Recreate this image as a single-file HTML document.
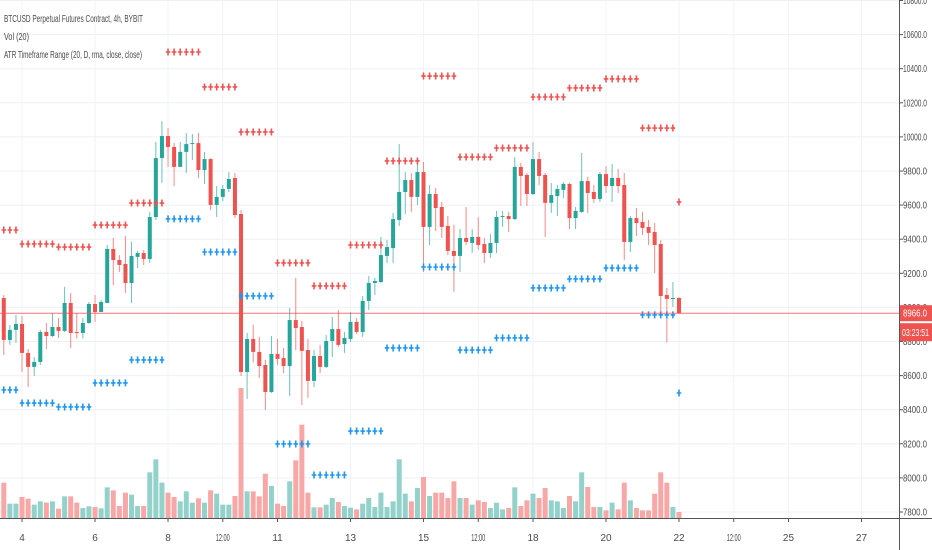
<!DOCTYPE html>
<html><head><meta charset="utf-8">
<style>
html,body{margin:0;padding:0;background:#fff;}
svg{display:block;font-family:"Liberation Sans",sans-serif;}
</style></head>
<body>
<svg id="chart" width="932" height="550" viewBox="0 0 932 550" xmlns="http://www.w3.org/2000/svg">
  <rect x="0" y="0" width="932" height="550" fill="#ffffff"/>
  <g id="grid"></g>
  <g id="volume"></g>
  <g id="candles"></g>
  <g id="atr"></g>
  <g id="axes"></g>
  <g fill="#4a4a4a" font-size="10">
    <text x="4" y="22" textLength="139" lengthAdjust="spacingAndGlyphs">BTCUSD Perpetual Futures Contract, 4h, BYBIT</text>
    <text x="4" y="40" textLength="25" lengthAdjust="spacingAndGlyphs">Vol (20)</text>
    <text x="4" y="58" textLength="138" lengthAdjust="spacingAndGlyphs">ATR Timeframe Range (20, D, rma, close, close)</text>
  </g>
</svg>
<script>
const openP=[8985,9055,8809,8868,8903,8733,8651,8680,8856,8832,8885,8862,9026,8856,8850,8909,9020,8973,9026,9343,9278,9255,9143,9296,9319,9284,9530,9876,10005,9941,9824,9912,9958,9964,9806,9870,9601,9648,9695,9759,9548,8621,8815,8739,8662,8504,8727,8703,8656,8926,8885,8750,8569,8715,8651,8803,8873,8785,8815,8915,8856,9038,9143,9149,9302,9348,9513,9677,9747,9648,9794,9472,9665,9589,9478,9331,9302,9407,9378,9413,9372,9319,9378,9530,9536,9518,9824,9777,9665,9870,9777,9613,9653,9689,9724,9524,9560,9741,9677,9636,9782,9712,9759,9718,9384,9524,9501,9472,9442,9372,9073,9050,9055];
const highP=[9067,9073,8897,8956,8950,8756,8709,8868,8909,8967,8938,9120,9085,8967,8938,9032,9073,9044,9366,9407,9307,9419,9384,9331,9337,9560,9970,10093,10052,9964,9970,10023,10017,10023,9912,9876,9712,9718,9794,9788,9571,8850,8897,8827,8692,8832,8815,8762,8997,9173,8920,8815,8750,8780,8838,8944,8985,8856,8973,8938,9067,9184,9173,9413,9395,9554,9958,9794,9788,9847,9853,9718,9700,9618,9536,9484,9460,9589,9460,9530,9407,9431,9566,9566,9560,9882,9847,9788,9970,9912,9788,9730,9718,9735,9730,9589,9906,9765,9718,9794,9829,9841,9812,9788,9536,9583,9560,9513,9495,9395,9114,9149,9061];
const lowP=[8973,8721,8780,8792,8621,8533,8598,8662,8756,8827,8821,8856,8762,8818,8818,8903,8915,8973,9026,9131,9208,9085,9026,9231,9249,9260,9513,9730,9824,9712,9824,9788,9865,9759,9724,9571,9530,9624,9677,9524,8598,8463,8677,8586,8398,8498,8662,8615,8481,8750,8428,8469,8533,8615,8645,8709,8768,8733,8797,8844,8827,8985,9073,9143,9260,9260,9478,9548,9560,9601,9208,9366,9448,9407,9307,9091,9208,9366,9319,9337,9260,9290,9319,9472,9442,9513,9595,9595,9659,9718,9413,9554,9536,9642,9460,9460,9554,9554,9613,9618,9671,9618,9671,9278,9325,9419,9425,9366,9202,8973,8794,9003,8962];
const closeP=[9055,8809,8868,8903,8733,8651,8680,8856,8832,8885,8862,9026,8850,8850,8909,9020,8973,9032,9343,9278,9249,9143,9302,9319,9284,9530,9876,10005,9941,9824,9912,9958,9964,9806,9870,9601,9648,9695,9753,9542,8621,8815,8739,8656,8504,8727,8698,8656,8926,8879,8745,8569,8715,8651,8803,8873,8780,8821,8915,8856,9038,9143,9155,9307,9354,9518,9677,9747,9648,9794,9472,9665,9583,9472,9331,9302,9407,9384,9413,9366,9319,9378,9530,9536,9518,9824,9771,9665,9870,9771,9613,9659,9694,9724,9524,9566,9741,9671,9636,9782,9712,9759,9712,9384,9524,9495,9466,9437,9366,9067,9050,9055,8966];
const volumes=[50,106,43,43,63,58,40,50,46,50,28,65,65,46,30,35,33,29,92,83,36,76,70,36,36,137,176,106,76,63,50,80,46,59,46,83,73,40,40,66,390,80,80,65,133,96,43,36,110,173,280,76,32,32,40,60,48,36,31,26,43,60,33,76,33,50,176,73,50,90,123,66,76,76,60,110,60,60,40,53,48,30,46,26,30,92,36,53,73,60,90,53,50,30,66,50,137,93,33,33,23,46,26,106,53,30,23,23,73,137,106,33,18];
const atrUpper=[9454,9372,9354,9483,9612,10498,10293,10029,9261,9126,9366,9859,10357,9882,9935,10234,10287,10340,10052,9618];
const atrLower=[8516,8439,8416,8557,8692,9519,9325,9067,8199,8017,8275,8762,9237,8750,8821,9114,9167,9231,8956,8498];
const priceTicks=[10800,10600,10400,10200,10000,9800,9600,9400,9200,9000,8800,8600,8400,8200,8000,7800];
const timeLabels=["4","6","8","12:00","11","13","15","12:00","18","20","22","12:00","25","27"];
const timeLabelIdx=[4,16,28,37,46,58,70,79,88,100,112,121,130,142];
const lastPrice=8966;

const NS="http://www.w3.org/2000/svg";
const PLOT_R=899, AXIS_Y=518;
function xScale(i){return 679-(112-i)*6.083;}
function yScale(p){return 171+(9800-p)/5.865;}
function volY(v){return AXIS_Y-v/3;}
function mk(tag,attrs,parent){const e=document.createElementNS(NS,tag);for(const k in attrs)e.setAttribute(k,attrs[k]);parent.appendChild(e);return e;}

const grid=document.getElementById('grid');
priceTicks.forEach(p=>{
  const l=mk('line',{x1:0,x2:PLOT_R,y1:yScale(p),y2:yScale(p),stroke:'#edf0f5','stroke-width':1},grid);
  
  
});
timeLabelIdx.forEach(i=>{
  const l=mk('line',{x1:xScale(i),x2:xScale(i),y1:0,y2:AXIS_Y,stroke:'#f0f3f8','stroke-width':1},grid);
  
  
});

const vol=document.getElementById('volume');
volumes.forEach((v,i)=>{
  const up=closeP[i]>=openP[i];
  const r=mk('rect',{x:xScale(i)-2.5,y:volY(v),width:5,height:v/3,fill:up?'#92d2cb':'#f7a8a6'},vol);
  
  
});

const cg=document.getElementById('candles');
openP.forEach((o,i)=>{
  const c=closeP[i], up=c>=o, x=xScale(i);
  const col=up?'#26a69a':'#ef5350', wcol=up?'#6cc1b8':'#f28a88';
  const g=mk('g',{},cg);
  
  
  mk('line',{x1:x,x2:x,y1:yScale(highP[i]),y2:yScale(lowP[i]),stroke:wcol,'stroke-width':1},g);
  const top=yScale(Math.max(o,c)), bot=yScale(Math.min(o,c));
  mk('rect',{x:x-2,y:top,width:4,height:Math.max(1,bot-top),fill:col},g);
});

const ag=document.getElementById('atr');
function marker(x,y,col){
  const m=mk('path',{d:`M${x} ${y-3.5}L${x} ${y+3.5}M${x-2.3} ${y}L${x+2.3} ${y}`,stroke:col,'stroke-width':1.6,fill:'none'},ag);
  return m;
}
atrUpper.forEach((u,k)=>{
  const start=-2+6*k;
  for(let i=Math.max(0,start);i<=Math.min(112,start+5);i++){
    const m=marker(xScale(i),yScale(u),'#ef5350');
    
    
    const n=marker(xScale(i),yScale(atrLower[k]),'#2196f3');
    
    
  }
});

const ax=document.getElementById('axes');
const pl=mk('line',{x1:0,x2:PLOT_R,y1:yScale(lastPrice),y2:yScale(lastPrice),stroke:'#ef5350','stroke-width':1,opacity:0.8},ax);


const xa=mk('line',{x1:0,x2:932,y1:AXIS_Y+0.5,y2:AXIS_Y+0.5,stroke:'#555','stroke-width':1},ax);


const ya=mk('line',{x1:PLOT_R+0.5,x2:PLOT_R+0.5,y1:0,y2:550,stroke:'#555','stroke-width':1},ax);


priceTicks.forEach(p=>{
  const y=yScale(p);
  mk('line',{x1:PLOT_R,x2:PLOT_R+4,y1:y,y2:y,stroke:'#555','stroke-width':1},ax);
  const t=mk('text',{x:903,y:y+3.5,'font-size':10,fill:'#4a4a4a',textLength:24,lengthAdjust:'spacingAndGlyphs'},ax);
  t.textContent=p.toFixed(1);
  
  
});
timeLabels.forEach((s,k)=>{
  const x=xScale(timeLabelIdx[k]);
  mk('line',{x1:x,x2:x,y1:AXIS_Y,y2:AXIS_Y+4,stroke:'#555','stroke-width':1},ax);
  const t=mk('text',{x:x,y:541,'font-size':10,fill:'#4a4a4a','text-anchor':'middle'},ax);
  if(s.length>2){t.setAttribute('textLength',14);t.setAttribute('lengthAdjust','spacingAndGlyphs');}
  t.textContent=s;
  
  
});
const ly=yScale(lastPrice);
const lb=mk('rect',{x:PLOT_R+1,y:ly-8,width:32,height:16,fill:'#ef5350'},ax);


const lt=mk('text',{x:903,y:ly+3.5,'font-size':10,fill:'#fff',textLength:24,lengthAdjust:'spacingAndGlyphs'},ax);
lt.textContent=lastPrice.toFixed(1);


const tb=mk('rect',{x:PLOT_R+1,y:ly+10,width:32,height:18,fill:'#ef5350'},ax);


const tt=mk('text',{x:902,y:ly+23,'font-size':10,fill:'#fff',textLength:27,lengthAdjust:'spacingAndGlyphs'},ax);
tt.textContent="03:23:51";


</script>
</body></html>
